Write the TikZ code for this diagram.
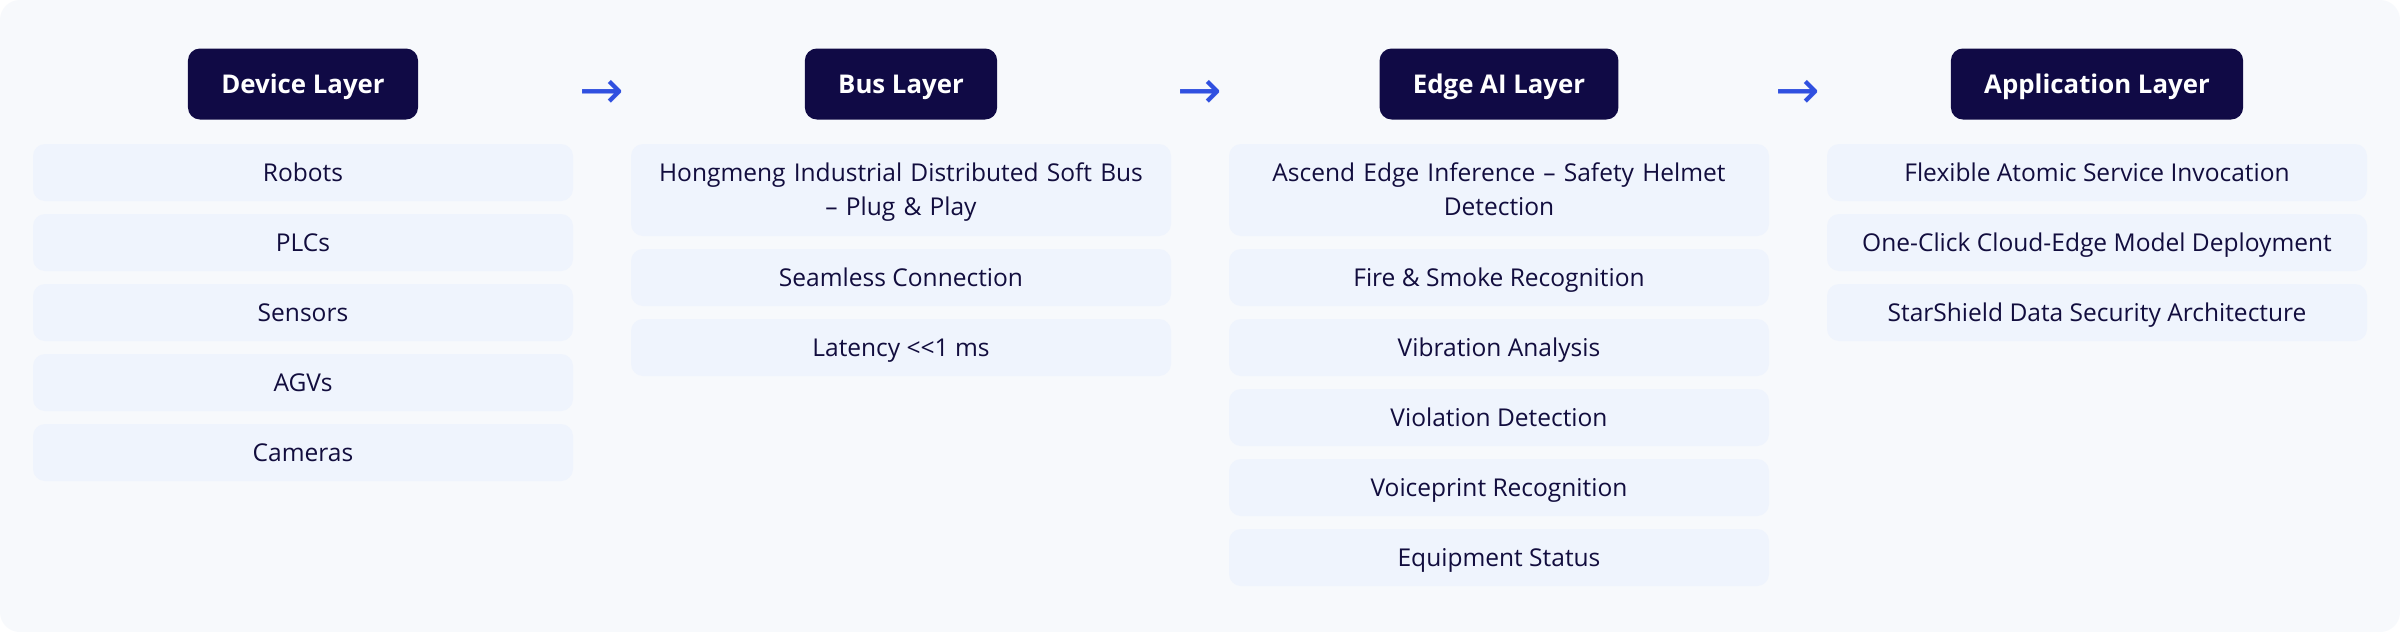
\documentclass[tikz,border=0pt]{standalone}
\usepackage{fontspec}
\setmainfont{Open Sans}
\newfontfamily\arrowfont{DejaVu Sans}
\usepackage{xcolor}
\definecolor{bgcol}{HTML}{F7F9FC}
\definecolor{boxcol}{HTML}{EFF4FD}
\definecolor{headcol}{HTML}{100A45}
\definecolor{txtcol}{HTML}{120D3E}
\definecolor{arrcol}{HTML}{3050E0}

\begin{document}
\begin{tikzpicture}[x=0.75pt, y=-0.75pt,
	head/.style={fill=headcol, text=white, rounded corners=9pt, inner xsep=25pt, inner ysep=0pt, minimum height=53.25pt, text height=13.8pt, text depth=0pt, font=\bfseries\fontsize{19.35}{23}\selectfont},
	item/.style={fill=boxcol, text=txtcol, rounded corners=9pt, minimum width=405pt, minimum height=42.75pt, inner sep=0pt, text height=13.3pt, text depth=0pt, font=\fontsize{18.4}{25.5}\selectfont},
	itemtwo/.style={item, minimum height=69pt, text width=400pt, align=center, text depth=25.5pt},
	arr/.style={text=arrcol, inner sep=0pt, anchor=base, font=\arrowfont\fontsize{40}{40}\selectfont}]
		
		% \draw[gray, very thin] (0,0) grid[step=100] (2400,632);
		
		\fill[white] (0,0) rectangle (2400,632);
		\fill[bgcol, rounded corners=15pt] (0,0) rectangle (2400,632);
		
		\begin{scope}[shift={(303,0)}]
		\node[head] (dev) at (0,84) {Device Layer};
		\node[item] (dev1) at (0,172.5) {Robots};
		\node[item] (dev2) at (0,242.5) {PLCs};
		\node[item] (dev3) at (0,312.5) {Sensors};
		\node[item] (dev4) at (0,382.5) {AGVs};
		\node[item] (dev5) at (0,452.5) {Cameras};
		\end{scope}
		
		\begin{scope}[shift={(901,0)}]
		\node[head] (bus) at (0,84) {Bus Layer};
		\node[itemtwo] (bus1) at (0,190) {Hongmeng Industrial Distributed Soft Bus\\– Plug \& Play};
		\node[item] (bus2) at (0,277.5) {Seamless Connection};
		\node[item] (bus3) at (0,347.5) {Latency <{}<1 ms};
		\end{scope}
		
		\begin{scope}[shift={(1499,0)}]
		\node[head] (edge) at (0,84) {Edge AI Layer};
		\node[itemtwo] (edge1) at (0,190) {Ascend Edge Inference – Safety Helmet\\Detection};
		\node[item] (edge2) at (0,277.5) {Fire \& Smoke Recognition};
		\node[item] (edge3) at (0,347.5) {Vibration Analysis};
		\node[item] (edge4) at (0,417.5) {Violation Detection};
		\node[item] (edge5) at (0,487.5) {Voiceprint Recognition};
		\node[item] (edge6) at (0,557.5) {Equipment Status};
		\end{scope}
		
		\begin{scope}[shift={(2097,0)}]
		\node[head] (app) at (0,84) {Application Layer};
		\node[item] (app1) at (0,172.5) {Flexible Atomic Service Invocation};
		\node[item] (app2) at (0,242.5) {One-Click Cloud-Edge Model Deployment};
		\node[item] (app3) at (0,312.5) {StarShield Data Security Architecture};
		\end{scope}
		
		% arrows between the layers
		\node[arr] (ar1) at (602,108) {→};
		\node[arr] (ar2) at (1200,108) {→};
		\node[arr] (ar3) at (1798,108) {→};
		
		\end{tikzpicture}
\end{document}
